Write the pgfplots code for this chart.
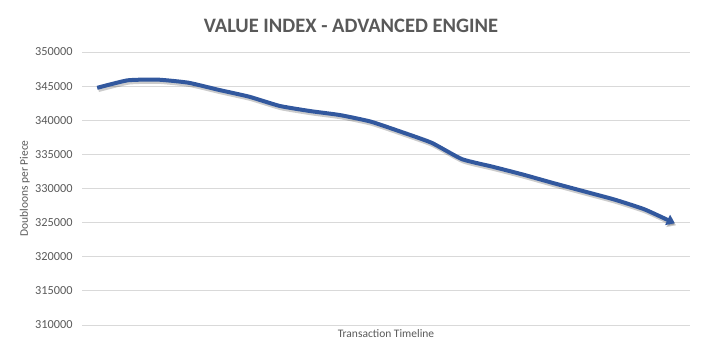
\documentclass[border=0pt]{standalone}
\usepackage{fontspec}
\setmainfont{Carlito}
\usepackage{pgfplots}
\pgfplotsset{compat=1.18}
\usetikzlibrary{arrows.meta}
\definecolor{txt}{HTML}{595959}
\definecolor{grd}{HTML}{D9D9D9}
\definecolor{ln}{RGB}{50,88,158}
\pgfplotstableread{
x y
0 344750
1 345850
2 345950
3 345500
4 344450
5 343450
6 342100
7 341350
8 340750
9 339800
10 338300
11 336700
12 334300
13 333200
14 332050
15 330800
16 329600
17 328400
18 326950
19 324900
}\datatable
\begin{document}
\begin{tikzpicture}
\path[use as bounding box] (0,0) rectangle (705bp,359bp);
\begin{axis}[
 at={(82bp,34bp)}, anchor=south west,
 scale only axis, width=608bp, height=273bp,
 xmin=-0.5, xmax=19.5, ymin=310000, ymax=350000,
 ytick distance=5000, xtick=\empty,
 axis line style={draw=none},
 ymajorgrids, grid style={grd, line width=0.8bp},
 major tick length=0pt,
 /pgf/number format/assume math mode=true,
 /pgf/number format/.cd, fixed, set thousands separator={}, /pgfplots/.cd,
 scaled y ticks=false,
 yticklabel style={font=\fontsize{12.3bp}{14bp}\selectfont, text=txt, xshift=-6bp},
 xlabel={Transaction Timeline},
 ylabel={Doubloons per Piece},
 every axis x label/.style={at={(axis description cs:0.5,0)}, anchor=north, yshift=-1bp, font=\fontsize{11.5bp}{13bp}\selectfont, text=txt},
 every axis y label/.style={at={(axis description cs:-0.094,0.5)}, rotate=90, anchor=center, font=\fontsize{11.5bp}{13bp}\selectfont, text=txt},
 clip=false,
]
\addplot[no markers, smooth, tension=0.3, draw=black, opacity=0.2, line width=4.5bp, xshift=1.2bp, yshift=-2bp, -{Triangle[length=8bp,width=11bp]}] table[x=x,y=y] {\datatable};
\addplot[no markers, smooth, tension=0.3, draw=ln, line width=4bp, -{Triangle[length=8bp,width=11bp]}] table[x=x,y=y] {\datatable};
\end{axis}
\node[text=txt, font=\bfseries\fontsize{20.5bp}{24bp}\selectfont] at (351bp,333bp) {VALUE INDEX - ADVANCED ENGINE};
\end{tikzpicture}
\end{document}
